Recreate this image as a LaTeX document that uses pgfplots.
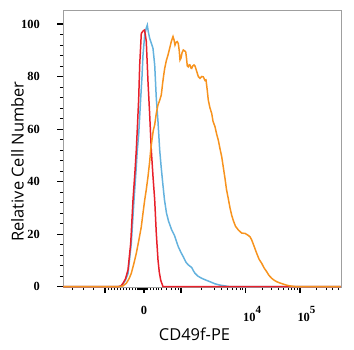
\documentclass[border=0pt]{standalone}
\usepackage{pgfplots}
\pgfplotsset{compat=1.18}
\usepackage{fontspec}
\setmainfont{Open Sans}
\newfontfamily\tickfont{Liberation Serif}
\usetikzlibrary{calc}
\definecolor{cred}{HTML}{E8202A}
\definecolor{cblue}{HTML}{64B2DE}
\definecolor{corange}{HTML}{F7931E}
\newcommand{\sci}[1]{\makebox[0pt][l]{\hspace{-2.5bp}10\raisebox{0.62em}{\fontsize{11}{11}\selectfont #1}}}
\begin{document}
\begin{tikzpicture}
\begin{axis}[
  scale only axis, width=277.4bp, height=276bp,
  xmin=63.3, xmax=340.7, ymin=0, ymax=105.06,
  axis line style={gray!75},
  tick align=outside,
  xtick pos=bottom, ytick pos=left,
  xtick={105,144,181,245.7,300},
  xticklabels={,0,,\sci{4},\sci{5}},
  minor xtick={72.7,83.3,93.3,108,111,114,117,120,123,126,129,132,135,137,138,139,140,141,142,143,145,146,147,150,153,156,158.5,161.7,166.7,171,175,178.5,201.7,214.3,221.7,227.7,232.3,236.7,240,242.7,262.3,271.6,278.4,283.7,288,291.6,294.7,297.5,316.4,326,332.7,338},
  ytick={0,20,40,60,80,100},
  minor y tick num=4,
  major tick length=6bp, minor tick length=3.5bp,
  tick style={black, line width=1.1pt},
  minor tick style={line width=0.8pt},
  tick label style={font=\tickfont\bfseries\fontsize{12.5}{13}\selectfont},
  /pgf/number format/assume math mode=true,
  yticklabel style={anchor=east, xshift=-14bp},
  xticklabel style={anchor=north, yshift=-10bp},
  xlabel={CD49f-PE}, ylabel={Relative Cell Number},
  label style={font=\fontsize{16.5}{18}\selectfont},
  xlabel style={at={(axis description cs:0.473,-0.171)}, anchor=center},
  ylabel style={at={(axis description cs:-0.165,0.453)}, anchor=center},
  clip=false,
  no markers,
]
\addplot[cblue, line width=1.5pt] coordinates {
(63.3,0) (119,0) (121,0.3) (123,1) (125.5,2.5) (128,5) (131.3,16.5) (134,33) (136,44) (137.3,52) (138.7,58) (140.7,71.7) (142,80) (143,88.2) (144.7,95.8) (146.3,98.5) (147.3,99.6) (148.3,97) (149.7,94.5) (151.5,92.5) (153,90.7) (154.7,84.4) (156.3,71.7) (158,62.8) (159.7,52) (161.3,45) (163,38.5) (164.5,33) (166.5,28) (168.5,25) (171.5,21.8) (174.5,19.5) (178.3,15.2) (181,13) (183.3,11.4) (186,9.3) (188.3,8.3) (190,7.8) (191.7,7.3) (193.5,6) (195,5.1) (198,4) (201.7,3.2) (206,2.5) (210,1.9) (215,1.1) (220,0.6) (225,0.3) (230,0) (340.7,0)
};
\addplot[cred, line width=1.5pt] coordinates {
(63.3,0) (118,0) (121,0.3) (123,1.3) (125.5,3) (128,6.4) (130.7,16.5) (133,33) (135,44) (136.3,52) (137.3,60) (138.7,71.7) (139.7,84.4) (141.3,96.4) (143,97.3) (144.5,97.7) (145.3,96) (146.3,93.3) (148,78) (149.7,65.4) (151.3,52) (153,42) (154.7,33) (156.3,20.3) (158,10.2) (159.3,5.5) (160.7,2.5) (163,0) (340.7,0)
};
\addplot[corange, line width=1.5pt] coordinates {
(63.3,0) (119,0) (123,0.3) (126.3,1.3) (129,3) (131.3,5.1) (134,9) (136.3,12.7) (139,18) (141.3,22.8) (143,28) (144.7,33) (146.3,37) (148,41.9) (149.5,47) (150.7,52) (152,56) (153.3,59.5) (154.7,61.6) (156.3,66) (158,69.2) (159.7,71) (161.3,73) (162.5,77) (163.5,80) (164.7,83.1) (166.3,86) (168,88.2) (169.5,90.5) (171.3,93.3) (173,95.2) (174,94) (175,92) (176,93) (177.3,93.3) (178.3,92.5) (179.2,90) (180,86.3) (181,87) (182,89) (183.3,90.1) (184.5,89.8) (185.7,89.4) (186.5,87) (187.3,84) (188.3,83.7) (189.2,84.5) (190,84.4) (191,83.2) (191.7,83.1) (192.7,84) (194,84.4) (195,84) (196.7,82) (198.3,80) (200,79.3) (201.7,80) (203.3,79.9) (205,78.5) (206,78.7) (207.2,75) (208.3,71) (210,68) (211.7,66) (213,63) (215,60.9) (216.7,58) (218.3,55.8) (220,52.5) (221.7,49.5) (223.3,45.5) (225,41.2) (226.5,37) (228.3,33.5) (230,30) (231.7,27.2) (233.5,25) (235.5,23) (238.3,21.6) (241.7,20.4) (245,20.3) (248,19.6) (250,19) (251.7,17.8) (254,15.5) (256.7,12.7) (259,10.5) (261.7,8.9) (264,7.2) (266.7,5.7) (269,4.3) (271.7,3.2) (274,2.5) (276.7,1.9) (280,1.4) (283.3,1) (286.5,0.6) (290,0.3) (294,0.1) (296.7,0) (340.7,0)
};
\end{axis}
\pgfresetboundingbox
\path ($(current axis.south west)+(-63.3bp,-63.3bp)$) rectangle ($(current axis.north east)+(13.3bp,10.7bp)$);
\end{tikzpicture}
\end{document}
